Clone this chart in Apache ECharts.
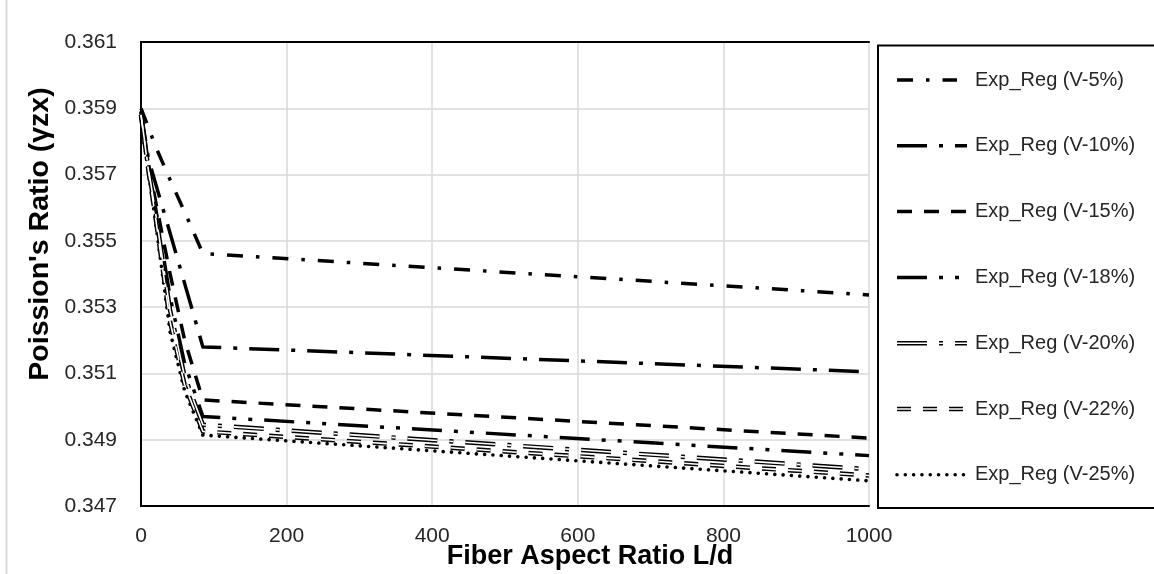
<!DOCTYPE html>
<html><head><meta charset="utf-8">
<script src="https://cdn.jsdelivr.net/npm/echarts@6/dist/echarts.min.js"></script>
<style>html,body{margin:0;padding:0;background:#fff}#c{width:1154px;height:574px}</style>
</head><body><div id="c"></div>
<script>
// ---- data ----
const aspectRatios = [0, 10, 20, 40, 60, 85, 1000];
const seriesNames = ['Exp_Reg (V-5%)', 'Exp_Reg (V-10%)', 'Exp_Reg (V-15%)', 'Exp_Reg (V-18%)', 'Exp_Reg (V-20%)', 'Exp_Reg (V-22%)', 'Exp_Reg (V-25%)'];
const v5  = [0.3590, 0.35843, 0.35785, 0.35684, 0.35587, 0.35462, 0.35337];
const v10 = [0.3589, 0.35750, 0.35673, 0.35523, 0.35371, 0.35180, 0.35105];
const v15 = [0.3589, 0.35735, 0.35620, 0.35400, 0.35200, 0.35020, 0.34905];
const v18 = [0.3588, 0.35725, 0.35600, 0.35330, 0.35130, 0.34970, 0.34852];
const v20 = [0.3588, 0.35720, 0.35585, 0.35290, 0.35090, 0.34945, 0.34811];
const v22 = [0.3588, 0.35715, 0.35570, 0.35255, 0.35065, 0.34925, 0.34792];
const v25 = [0.3587, 0.35711, 0.35557, 0.35225, 0.35047, 0.34914, 0.34776];
const xTickLabels = ['0', '200', '400', '600', '800', '1000'];
const yTickLabels = ['0.347', '0.349', '0.351', '0.353', '0.355', '0.357', '0.359', '0.361'];
const xTitle = 'Fiber Aspect Ratio L/d';
const yTitle = "Poission's Ratio (\u03b3zx)";

// ---- styles ----
const allValues = [v5, v10, v15, v18, v20, v22, v25];
const styles = [
  {dash: [16, 13, 3.5, 13], w: 3.5, cap: 'butt', iconEnd: 957},
  {dash: [30, 12, 4, 12], w: 3.5, cap: 'butt'},
  {dash: [15, 12], w: 3.5, cap: 'butt'},
  {dash: [30, 12, 4, 12, 4, 12], w: 3.5, cap: 'butt'},
  {dash: [30, 12, 4, 12], w: 4.5, cap: 'butt', hollow: true},
  {dash: [14, 12], w: 4.5, cap: 'butt', hollow: true},
  {dash: [0.01, 8.3], w: 3.6, cap: 'round'}
];
const FONT = '"Liberation Sans", Arial, sans-serif';
const TXT = '#262626';

const series = [];
allValues.forEach((vals, i) => {
  const st = styles[i];
  const data = aspectRatios.map((x, k) => [x, vals[k]]);
  series.push({
    name: seriesNames[i], type: 'line', data, symbol: 'none', silent: true,
    lineStyle: {color: '#000', width: st.w, type: st.dash, cap: st.cap, join: 'round'},
    z: 3
  });
  if (st.hollow) {
    series.push({
      name: seriesNames[i] + ' inner', type: 'line', data, symbol: 'none', silent: true,
      lineStyle: {color: '#fff', width: 1.6, type: st.dash, cap: st.cap, join: 'round'},
      z: 4
    });
  }
});

// ---- legend drawn as graphic ----
const legendFirstY = 80, legendStep = 65.8, iconX0 = 897, iconX1 = 967, textX = 975;
const graphic = [
  {type: 'line', shape: {x1: 6.5, y1: 0, x2: 6.5, y2: 574}, style: {stroke: '#d9d9d9', lineWidth: 2}},
  {type: 'rect', shape: {x: 878, y: 45.5, width: 300, height: 462.5}, style: {fill: 'none', stroke: '#000', lineWidth: 2}},
  {type: 'text', x: 590, y: 557, style: {text: xTitle, font: 'bold 27px ' + FONT, fill: '#000', align: 'center', verticalAlign: 'middle'}},
  {type: 'text', x: 40, y: 234, rotation: Math.PI / 2, style: {text: yTitle, font: 'bold 28.5px ' + FONT, fill: '#000', align: 'center', verticalAlign: 'middle'}}
];
seriesNames.forEach((name, i) => {
  const st = styles[i];
  const cy = legendFirstY + i * legendStep;
  const x2 = st.iconEnd || iconX1;
  graphic.push({type: 'line', shape: {x1: iconX0, y1: cy, x2, y2: cy},
    style: {stroke: '#000', lineWidth: st.w, lineDash: st.dash, lineCap: st.cap}});
  if (st.hollow) {
    graphic.push({type: 'line', shape: {x1: iconX0, y1: cy, x2, y2: cy},
      style: {stroke: '#fff', lineWidth: 1.6, lineDash: st.dash, lineCap: st.cap}});
  }
  graphic.push({type: 'text', x: textX, y: cy, style: {text: name, font: '20px ' + FONT, fill: TXT, align: 'left', verticalAlign: 'middle'}});
});

const frameAxis = {show: true, lineStyle: {color: '#000', width: 2}};
const chart = echarts.init(document.getElementById('c'), null, {renderer: 'canvas'});
chart.setOption({
  animation: false,
  backgroundColor: '#fff',
  grid: {left: 141, top: 42, right: 285, bottom: 68},
  xAxis: [{
    type: 'value', min: 0, max: 1000, interval: 200,
    axisLine: frameAxis,
    axisTick: {show: false},
    axisLabel: {color: TXT, fontSize: 21, fontFamily: FONT, margin: 20,
      formatter: (v) => xTickLabels[Math.round(v / 200)] ?? ''},
    splitLine: {show: true, lineStyle: {color: '#d9d9d9', width: 1.5}}
  }, {
    type: 'value', position: 'top', min: 0, max: 1000, interval: 200,
    axisLine: frameAxis, axisTick: {show: false}, axisLabel: {show: false}, splitLine: {show: false}
  }],
  yAxis: [{
    type: 'value', min: 0.347, max: 0.361, interval: 0.002,
    axisLine: frameAxis,
    axisTick: {show: false},
    axisLabel: {color: TXT, fontSize: 21, fontFamily: FONT, margin: 24,
      formatter: (v) => yTickLabels[Math.round((v - 0.347) / 0.002)] ?? ''},
    splitLine: {show: true, lineStyle: {color: '#d9d9d9', width: 1.5}}
  }, {
    type: 'value', position: 'right', min: 0.347, max: 0.361, interval: 0.002,
    axisLine: frameAxis, axisTick: {show: false}, axisLabel: {show: false}, splitLine: {show: false}
  }],
  series,
  graphic
});
</script></body></html>
